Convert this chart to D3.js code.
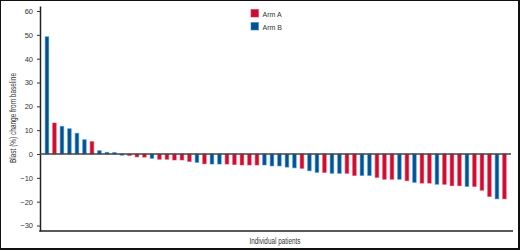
<!DOCTYPE html>
<html>
<head>
<meta charset="utf-8">
<script src="https://cdn.jsdelivr.net/npm/d3@7"></script>
<style>
  html, body { margin: 0; padding: 0; background: #fff; }
</style>
</head>
<body>
<div id="vizcontainer"></div>
<script>
const
  width = 520,
  height = 251
  ;

// blast % change per patient, sorted (waterfall)
const values = [49.2, 13.0, 11.6, 10.6, 8.7, 6.0, 5.2, 1.4, 0.7, 0.6,
  -0.5, -0.6, -1.2, -1.3, -1.8, -2.2, -2.2, -2.5, -2.5, -3.1,
  -3.5, -4.1, -4.2, -4.2, -4.2, -4.4, -4.6, -4.6, -4.6, -4.6,
  -5.0, -5.0, -5.5, -5.8, -6.0, -7.0, -7.7, -7.7, -8.1, -8.1,
  -8.1, -9.0, -9.0, -9.0, -9.8, -10.6, -10.6, -10.6, -11.2, -11.9,
  -12.2, -12.2, -12.7, -12.7, -13.3, -13.3, -13.6, -13.6, -15.2, -17.8,
  -18.8, -18.8];
const arms = ['B', 'A', 'B', 'B', 'B', 'B', 'A', 'B', 'B', 'B',
  'B', 'A', 'A', 'A', 'B', 'A', 'A', 'A', 'A', 'A',
  'B', 'A', 'B', 'B', 'A', 'A', 'A', 'A', 'A', 'B',
  'B', 'B', 'B', 'B', 'A', 'B', 'B', 'A', 'B', 'B',
  'A', 'A', 'B', 'B', 'A', 'A', 'A', 'B', 'A', 'B',
  'A', 'A', 'B', 'A', 'A', 'A', 'B', 'A', 'A', 'A',
  'B', 'A'];
const legendLabels = ['Arm A', 'Arm B'];
const yTicks = [-30, -20, -10, 0, 10, 20, 30, 40, 50, 60];

const colors = { A: '#c8102e', B: '#0b4f8a' };
const sans = 'Arial, "Liberation Sans", sans-serif';

let xScale = d3.scaleBand()
  .domain(d3.range(values.length))
  .range([41.7, 509.7])
  .padding(0.4);

let yScale = d3.scaleLinear()
  .domain([-32.3, 62.1])
  .range([231, 6]);

let viz = d3.select('#vizcontainer')
  .append('svg')
  .attr('width', width)
  .attr('height', height)
  .style('display', 'block');

// outer frame
viz.append('rect')
  .attr('x', 0).attr('y', 0)
  .attr('width', 519).attr('height', 249)
  .attr('fill', 'none')
  .attr('stroke', '#111')
  .attr('stroke-width', 2);

// y axis
let yAxis = viz.append('g')
  .attr('transform', 'translate(40,0)')
  .call(d3.axisLeft(yScale).tickValues(yTicks).tickSize(3).tickPadding(4).tickSizeOuter(0));
yAxis.select('.domain').attr('stroke', '#222').attr('stroke-width', 1.5);
yAxis.selectAll('.tick line').attr('stroke', '#333');
yAxis.selectAll('.tick text')
  .attr('fill', '#333')
  .style('font-family', sans)
  .style('font-size', '7.5px');

// bars
viz.append('g').selectAll('rect')
  .data(values)
  .join('rect')
  .attr('x', (d, i) => xScale(i) + 0.5)
  .attr('width', xScale.bandwidth() - 1)
  .attr('y', d => yScale(Math.max(0, d)))
  .attr('height', d => Math.abs(yScale(d) - yScale(0)))
  .attr('fill', (d, i) => colors[arms[i]])
  .attr('stroke', (d, i) => d3.color(colors[arms[i]]).brighter(1.6))
  .attr('stroke-opacity', 0.55)
  .attr('stroke-width', 1);

// zero line
viz.append('line')
  .attr('x1', 40).attr('x2', 511)
  .attr('y1', yScale(0)).attr('y2', yScale(0))
  .attr('stroke', '#444')
  .attr('stroke-width', 1.5);

// bottom axis line
viz.append('line')
  .attr('x1', 39.25).attr('x2', 513)
  .attr('y1', yScale.range()[0]).attr('y2', yScale.range()[0])
  .attr('stroke', '#222')
  .attr('stroke-width', 1.5);

// axis titles (condensed face in the original, squeezed here)
viz.append('text')
  .attr('transform', 'translate(15.5,118) rotate(-90)')
  .attr('text-anchor', 'middle')
  .attr('textLength', 90)
  .attr('lengthAdjust', 'spacingAndGlyphs')
  .style('font-family', sans)
  .style('font-size', '8.5px')
  .attr('fill', '#333')
  .text('Blast (%) change from baseline');

viz.append('text')
  .attr('x', 275)
  .attr('y', 244)
  .attr('text-anchor', 'middle')
  .attr('textLength', 51)
  .attr('lengthAdjust', 'spacingAndGlyphs')
  .style('font-family', sans)
  .style('font-size', '8.5px')
  .attr('fill', '#333')
  .text('Individual patients');

// legend
let legend = viz.append('g').selectAll('g')
  .data(legendLabels)
  .join('g')
  .attr('transform', (d, i) => `translate(251,${9.5 + i * 13})`);
legend.append('rect')
  .attr('width', 7.5).attr('height', 7.5)
  .attr('fill', (d, i) => colors[['A', 'B'][i]])
  .attr('stroke', (d, i) => d3.color(colors[['A', 'B'][i]]).brighter(1.6))
  .attr('stroke-opacity', 0.55);
legend.append('text')
  .attr('x', 11.5)
  .attr('y', 7)
  .style('font-family', sans)
  .style('font-size', '7px')
  .attr('fill', '#333')
  .text(d => d);
</script>
</body>
</html>
